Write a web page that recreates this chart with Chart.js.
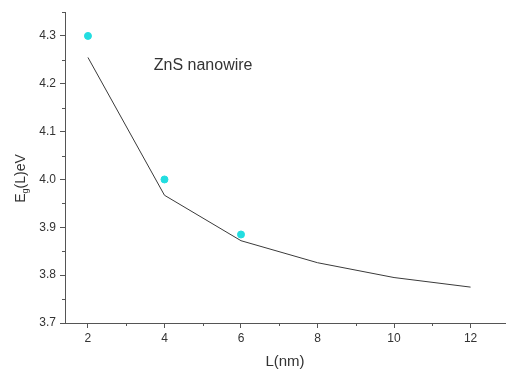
<!DOCTYPE html>
<html><head><meta charset="utf-8">
<script src="https://cdn.jsdelivr.net/npm/chart.js@4"></script>
<style>html,body{margin:0;padding:0;background:#fff}#wrap{width:511px;height:371px}</style>
</head><body><div id="wrap"><canvas id="c" width="511" height="371"></canvas></div>
<script>
const pointL = [2, 4, 6];
const pointE = [4.30, 4.00, 3.885];
const lineL = [2, 4, 6, 8, 10, 12];
const lineE = [4.255, 3.967, 3.872, 3.826, 3.795, 3.775];
const xTicks = [2, 4, 6, 8, 10, 12];
const yTicks = [3.7, 3.8, 3.9, 4.0, 4.1, 4.2, 4.3];
const annotationText = 'ZnS nanowire';
const xTitle = 'L(nm)';

const axisColor = '#555';
const textColor = '#333';
const fontFam = '"Liberation Sans", Arial, sans-serif';

const extras = {
  id: 'extras',
  afterDraw(chart) {
    const ctx = chart.ctx;
    const xs = chart.scales.x, ys = chart.scales.y;
    ctx.save();
    ctx.strokeStyle = axisColor;
    ctx.lineWidth = 1;
    for (let i = 0; i < xTicks.length; i++) {
      const v = xTicks[i] + 1;
      if (v > xs.max) continue;
      const px = Math.round(xs.getPixelForValue(v)) + 0.5;
      ctx.beginPath(); ctx.moveTo(px, ys.bottom); ctx.lineTo(px, ys.bottom + 3); ctx.stroke();
    }
    for (let i = 0; i < yTicks.length; i++) {
      const v = yTicks[i] + 0.05;
      if (v > ys.max) continue;
      const py = Math.round(ys.getPixelForValue(v)) + 0.5;
      ctx.beginPath(); ctx.moveTo(xs.left, py); ctx.lineTo(xs.left - 3, py); ctx.stroke();
    }
    ctx.fillStyle = textColor;
    ctx.font = '16px ' + fontFam;
    ctx.textAlign = 'left'; ctx.textBaseline = 'middle';
    ctx.fillText(annotationText, xs.getPixelForValue(3.72), ys.getPixelForValue(4.238));
    ctx.save();
    ctx.translate(21, (ys.top + ys.bottom) / 2 + 11);
    ctx.rotate(-Math.PI / 2);
    ctx.textBaseline = 'middle';
    const p1 = 'E', p3 = '(L)eV';
    ctx.font = '14px ' + fontFam; const w1 = ctx.measureText(p1).width;
    ctx.font = '9px ' + fontFam; const w2 = ctx.measureText('g').width;
    ctx.font = '14px ' + fontFam; const w3 = ctx.measureText(p3).width;
    let x0 = -(w1 + w2 + w3) / 2;
    ctx.textAlign = 'left';
    ctx.fillText(p1, x0, 0);
    ctx.font = '9px ' + fontFam;
    ctx.fillText('g', x0 + w1, 5);
    ctx.font = '14px ' + fontFam;
    ctx.fillText(p3, x0 + w1 + w2, 0);
    ctx.restore();
    ctx.restore();
  }
};

new Chart(document.getElementById('c'), {
  type: 'scatter',
  data: {
    datasets: [
      {
        type: 'line',
        data: lineL.map((l, i) => ({x: l, y: lineE[i]})),
        borderColor: '#3a3a3a', borderWidth: 1, pointRadius: 0, tension: 0, fill: false, order: 2
      },
      {
        data: pointL.map((l, i) => ({x: l, y: pointE[i]})),
        backgroundColor: '#22dde0', borderColor: '#22dde0', pointRadius: 3.5, order: 1
      }
    ]
  },
  plugins: [extras],
  options: {
    responsive: false, animation: false,
    layout: {padding: {top: 12, right: 6, left: 0, bottom: 0}},
    plugins: {legend: {display: false}, tooltip: {enabled: false}},
    scales: {
      x: {
        type: 'linear', min: 1.4, max: 12.9,
        afterBuildTicks(s) { s.ticks = xTicks.map(v => ({value: v})); },
        afterFit(s) { s.height = 48; },
        border: {display: true, color: axisColor, width: 1},
        grid: {drawOnChartArea: false, drawTicks: true, tickLength: 5, color: axisColor},
        ticks: {color: textColor, font: {family: fontFam, size: 12}, padding: 3, maxRotation: 0,
                callback: v => String(v)},
        title: {display: true, text: xTitle, color: textColor, font: {family: fontFam, size: 15}, padding: {top: 2, bottom: 0}}
      },
      y: {
        type: 'linear', min: 3.7, max: 4.35,
        afterBuildTicks(s) { s.ticks = yTicks.map(v => ({value: v})); },
        afterFit(s) { s.width = 65; },
        border: {display: true, color: axisColor, width: 1},
        grid: {drawOnChartArea: false, drawTicks: true, tickLength: 5, color: axisColor},
        ticks: {color: textColor, font: {family: fontFam, size: 12}, padding: 4,
                callback: v => Number(v).toFixed(1)}
      }
    }
  }
});
</script></body></html>
